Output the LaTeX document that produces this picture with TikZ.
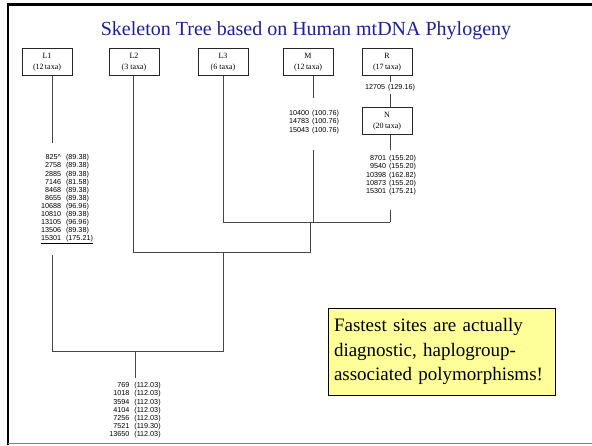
\documentclass[tikz,border=0pt]{standalone}
\usepackage{fontspec}
\setmainfont{Liberation Serif}
\newfontfamily\arialfont{Liberation Sans}
\usetikzlibrary{positioning}

\definecolor{titleblue}{RGB}{30,30,160}
\definecolor{noteyellow}{RGB}{255,255,153}
\definecolor{branchgray}{RGB}{70,70,70}

\tikzset{
	clade/.style={draw=black!85, line width=0.8pt, minimum width=50pt, minimum height=27pt,
		inner sep=1pt, align=center, font=\fontsize{8}{11.5}\selectfont},
	sites/.style={inner sep=0pt, font=\arialfont\fontsize{7.2}{8.1}\selectfont},
	branch/.style={draw=branchgray, line width=1pt},
	note/.style={draw=black, line width=0.8pt, fill=noteyellow, text width=215pt,
		minimum height=87pt, inner xsep=6pt, align=left,
		font=\fontsize{19}{24.5}\selectfont},
}

\begin{document}
\begin{tikzpicture}[x=1pt,y=-1pt]
	\useasboundingbox (0,0) rectangle (592,445);

	% frame
	\draw[line width=2.5pt] (8,445) -- (8,4.3) -- (592,4.3);
	\draw[gray, line width=0.8pt] (8,443) -- (592,443);

	% title
	\node[font=\fontsize{20}{24}\selectfont, text=titleblue] (title) at (306,31)
		{Skeleton Tree based on Human mtDNA Phylogeny};

	% haplogroups
	\node[clade] (l1) at (47,62) {L1\\(12\,taxa)};
	\node[clade] (l2) at (134,62) {L2\\(3 taxa)};
	\node[clade] (l3) at (223,62) {L3\\(6 taxa)};
	\node[clade] (m) at (308,62) {M\\(12\,taxa)};
	\node[clade] (r) at (387,62) {R\\(17\,taxa)};
	\node[clade] (n) at (387,121) {N\\(20\,taxa)};

	% sites
	\node[sites, anchor=north] (l1sites) at (67,154) {\begin{tabular}{@{}r@{\hspace{5pt}}l@{}}
		825\textasciicircum & (89.38)\\
		2758 & (89.38)\\
		2885 & (89.38)\\
		7146 & (81.58)\\
		8468 & (89.38)\\
		8655 & (89.38)\\
		10688 & (96.96)\\
		10810 & (89.38)\\
		13105 & (96.96)\\
		13506 & (89.38)\\
		15301 & (175.21)\\ \hline
	\end{tabular}};
	\node[sites, anchor=north] (msites) at (314,110) {\begin{tabular}{@{}r@{\hspace{3pt}}l@{}}
		10400 & (100.76)\\
		14783 & (100.76)\\
		15043 & (100.76)
	\end{tabular}};
	\node[sites, anchor=north] (rsite) at (390,84) {\begin{tabular}{@{}r@{\hspace{3pt}}l@{}}
		12705 & (129.16)
	\end{tabular}};
	\node[sites, anchor=north] (nsites) at (391,155) {\begin{tabular}{@{}r@{\hspace{3pt}}l@{}}
		8701 & (155.20)\\
		9540 & (155.20)\\
		10398 & (162.82)\\
		10873 & (155.20)\\
		15301 & (175.21)
	\end{tabular}};
	\node[sites, anchor=north] (rootsites) at (135,382) {\begin{tabular}{@{}r@{\hspace{5pt}}l@{}}
		769 & (112.03)\\
		1018 & (112.03)\\
		3594 & (112.03)\\
		4104 & (112.03)\\
		7256 & (112.03)\\
		7521 & (119.30)\\
		13650 & (112.03)
	\end{tabular}};

	% junctions
	\coordinate (root) at (135,351);
	\coordinate (b1) at (52,351);
	\coordinate (b2) at (223,351);
	\coordinate (b3) at (223,252);
	\coordinate (b4) at (133,252);
	\coordinate (b5) at (310,252);
	\coordinate (b6) at (310,222);
	\coordinate (b7) at (223,222);
	\coordinate (b8) at (313,222);
	\coordinate (b9) at (390,222);

	% branches
	\draw[branch, shorten >=11pt] (l1.south -| b1) -- (l1sites.north -| b1);
	\draw[branch, shorten <=11.5pt] (l1sites.south -| b1) -- (b1) -- (b2) -- (b3);
	\draw[branch] (l2.south -| b4) -- (b4) -- (b5) -- (b6);
	\draw[branch] (l3.south -| b7) -- (b7) -- (b9);
	\draw[branch, shorten >=12pt] (m.south -| b8) -- (msites.north -| b8);
	\draw[branch, shorten <=15.5pt] (msites.south -| b8) -- (b8);
	\draw[branch, shorten >=2pt] (r.south -| b9) -- (rsite.north -| b9);
	\draw[branch, shorten <=1pt] (rsite.south -| b9) -- (n.north -| b9);
	\draw[branch, shorten >=5pt] (n.south -| b9) -- (nsites.north -| b9);
	\draw[branch, shorten <=14.5pt] (nsites.south -| b9) -- (b9);
	\draw[branch, shorten >=4pt] (root) -- (rootsites.north -| root);

	% remark
	\node[note] (remark) at (441.5,351.5) {Fastest sites are actually\\
		diagnostic, haplogroup-\\associated polymorphisms!};

\end{tikzpicture}
\end{document}
